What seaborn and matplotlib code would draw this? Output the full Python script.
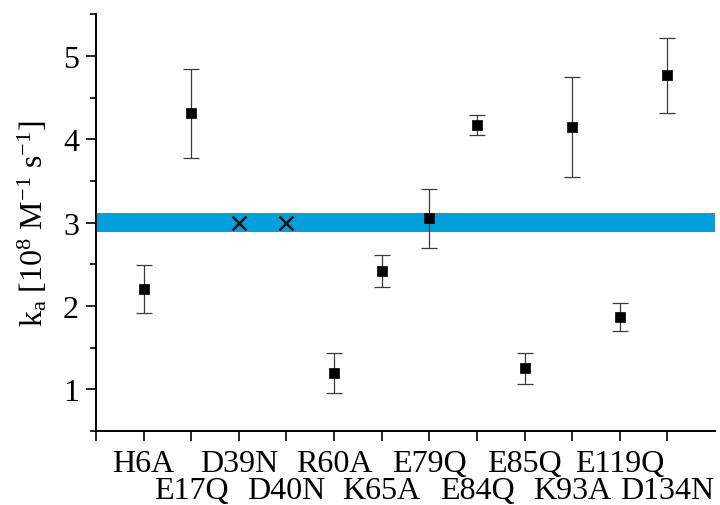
import matplotlib
matplotlib.use("Agg")
import matplotlib.pyplot as plt
import seaborn as sns
import numpy as np
import pandas as pd

# Mutants and association rate constants (10^8 M^-1 s^-1)
mutants = ["H6A", "E17Q", "D39N", "D40N", "R60A", "K65A",
           "E79Q", "E84Q", "E85Q", "K93A", "E119Q", "D134N"]
ka_values = [2.20, 4.31, 3.00, 3.00, 1.20, 2.42,
             3.05, 4.17, 1.25, 4.15, 1.87, 4.77]
ka_errors = [0.29, 0.53, 0.0, 0.0, 0.24, 0.19,
             0.35, 0.12, 0.18, 0.60, 0.17, 0.45]
no_binding = ["D39N", "D40N"]   # drawn with an X at the wild-type level
wt_ka = 3.0
wt_err = 0.11

sns.set_theme(style="ticks")
plt.rcParams["font.family"] = ["Liberation Serif", "DejaVu Serif"]
plt.rcParams["mathtext.fontset"] = "custom"
plt.rcParams["mathtext.rm"] = "Liberation Serif"
plt.rcParams["mathtext.it"] = "Liberation Serif:italic"
plt.rcParams["text.color"] = "black"
plt.rcParams["axes.labelcolor"] = "black"

df = pd.DataFrame({"mutant": mutants, "ka": ka_values, "err": ka_errors})
df["pos"] = np.arange(1, len(df) + 1)
measured = df[~df["mutant"].isin(no_binding)]
unbound = df[df["mutant"].isin(no_binding)]

fig = plt.figure(figsize=(7.2, 5.06), dpi=100)
ax = fig.add_axes([0.1333, 0.1462, 0.8597, 0.8238])

# wild-type band
ax.axhspan(wt_ka - wt_err, wt_ka + wt_err, color="#00A0DC", lw=0, zorder=1)

ax.errorbar(measured["pos"], measured["ka"], yerr=measured["err"], fmt="none",
            ecolor="#3a3a3a", elinewidth=0.9, capsize=5.5, capthick=0.9, zorder=2)
sns.scatterplot(data=measured, x="pos", y="ka", marker="s", s=55, color="black",
                edgecolor="black", linewidth=0.5, ax=ax, zorder=3)
sns.scatterplot(data=unbound, x="pos", y="ka", marker="x", s=100, color="#111111",
                linewidth=1.8, ax=ax, zorder=3)

ax.set_xlim(0, 13)
ax.set_ylim(0.5, 5.5)

# staggered mutant labels: odd positions on the first row, even on the second
odd = df.iloc[0::2]
even = df.iloc[1::2]
ax.set_xticks([0] + list(odd["pos"]), labels=[""] + list(odd["mutant"]))
ax.set_xticks(list(even["pos"]), labels=list(even["mutant"]), minor=True)
ax.tick_params(axis="x", which="both", length=7.2, width=1.2, direction="out",
               labelsize=23, colors="black")
ax.tick_params(axis="x", which="major", pad=5.5)
ax.tick_params(axis="x", which="minor", pad=25.5)

ax.set_yticks([1, 2, 3, 4, 5])
ax.set_yticks(np.arange(0.5, 5.6, 0.5), minor=True)
ax.tick_params(axis="y", which="major", length=7.2, width=1.2, labelsize=23,
               pad=5, colors="black")
ax.tick_params(axis="y", which="minor", length=4.3, width=1.2, colors="black")

ax.set_xlabel("")
ax.set_ylabel(r"k$_{\mathrm{a}}$ [10$^{8}$ M$^{\mathrm{-1}}$ s$^{\mathrm{-1}}$]",
              fontsize=23, labelpad=10, color="black")

sns.despine(ax=ax)
for side in ("left", "bottom"):
    ax.spines[side].set_linewidth(1.4)
    ax.spines[side].set_color("black")

fig.savefig("out.png", dpi=100, facecolor="white")
